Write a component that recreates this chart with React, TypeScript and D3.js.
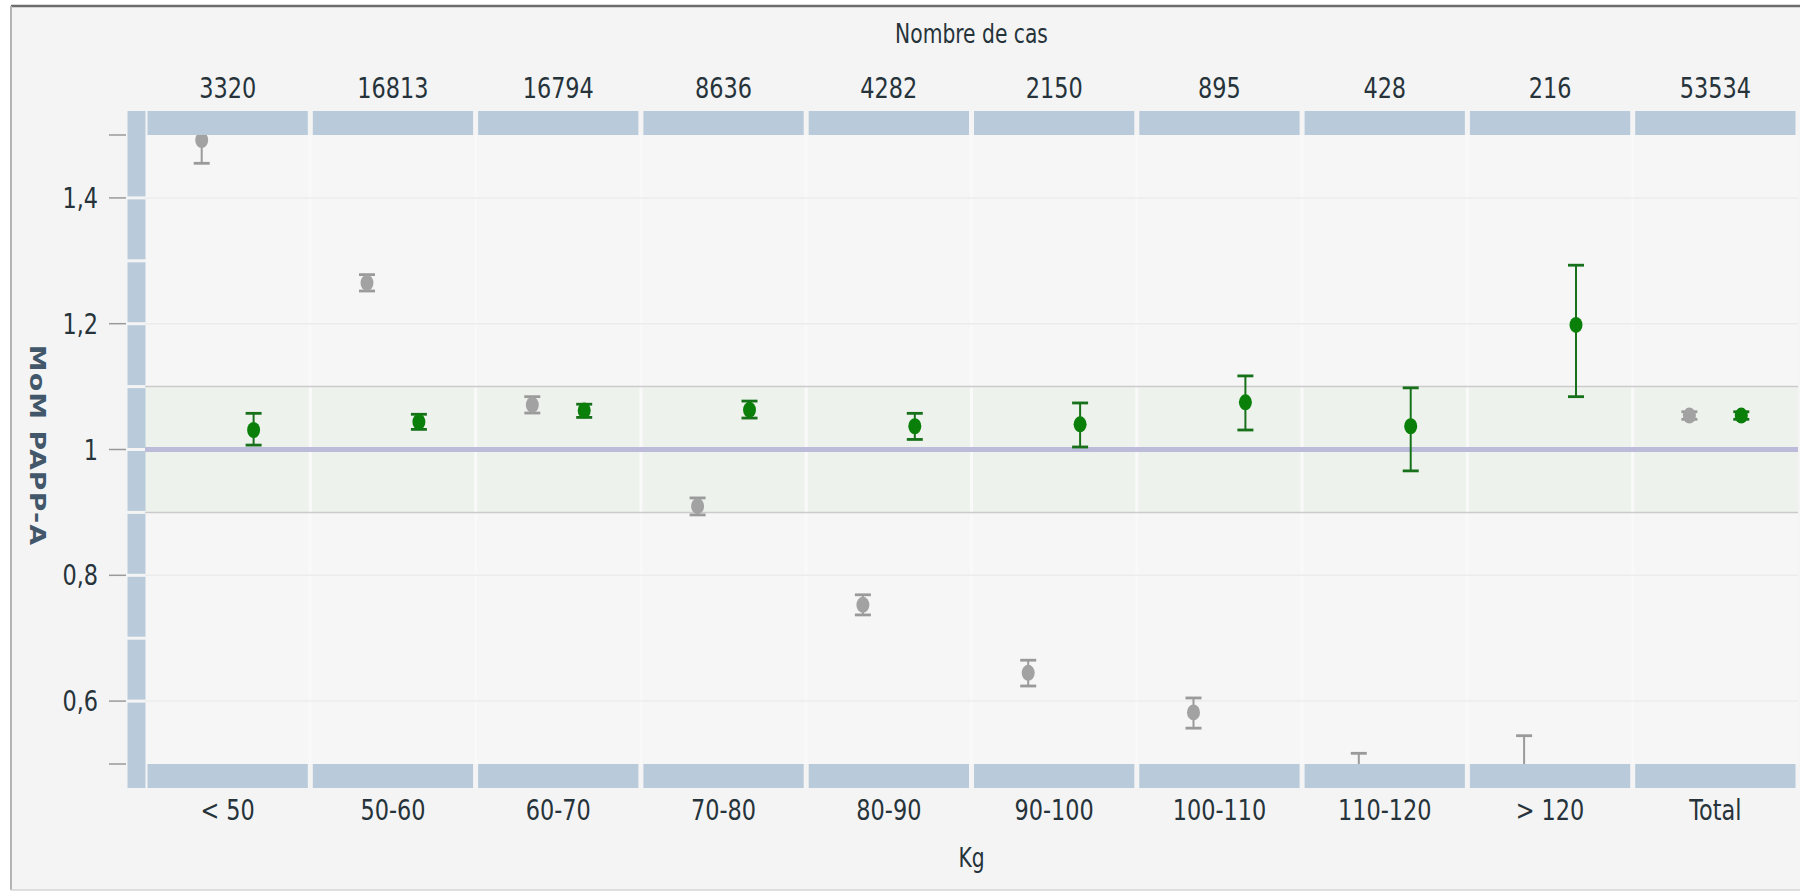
import React from "react";
import * as d3 from "d3";

const categories = ["< 50", "50-60", "60-70", "70-80", "80-90", "90-100", "100-110", "110-120", "> 120", "Total"];
const caseCounts = [3320, 16813, 16794, 8636, 4282, 2150, 895, 428, 216, 53534];

const grayMean = [1.492, 1.265, 1.071, 0.91, 0.753, 0.645, 0.582, 0.485, 0.47, 1.054];
const grayLow = [1.455, 1.252, 1.058, 0.896, 0.737, 0.624, 0.557, 0.453, 0.395, 1.048];
const grayHigh = [1.529, 1.278, 1.084, 0.923, 0.769, 0.665, 0.605, 0.517, 0.545, 1.06];

const greenMean = [1.031, 1.044, 1.062, 1.063, 1.037, 1.04, 1.075, 1.037, 1.198, 1.054];
const greenLow = [1.007, 1.032, 1.051, 1.05, 1.016, 1.004, 1.031, 0.966, 1.084, 1.048];
const greenHigh = [1.0575, 1.056, 1.072, 1.077, 1.0575, 1.074, 1.117, 1.098, 1.293, 1.06];

const yDomain = [0.5, 1.5];
const refBand = [0.9, 1.1];
const refLine = 1.0;

const W = 1800;
const H = 892;
const PL = 145, PR = 1798, PT = 135, PB = 764;
const FONT = "DejaVu Sans";
const TXT = "#26333a";
const BAND = "#b9cbdb";

const locale = d3.formatLocale({ decimal: ",", thousands: " ", grouping: [3], currency: ["", "€"] });
const fmt = locale.format("~g");

export default function App() {
  const x = d3.scaleBand<string>().domain(categories).range([PL, PR]).padding(0);
  const y = d3.scaleLinear().domain(yDomain).range([PB, PT]);
  const bw = x.bandwidth();
  const off = bw * 0.157;

  const labelTicks = y.ticks(5);
  const tickMarks = [yDomain[0], ...labelTicks, yDomain[1]];
  const fine = y.ticks(10).filter((t) => t > yDomain[0] + 1e-9 && t < yDomain[1] - 1e-9);
  const edges = [111, ...fine.map((t) => y(t)).sort((a, b) => a - b), 788];

  const series = [
    { mean: grayMean, low: grayLow, high: grayHigh, dx: -off, dot: "#a2a2a2", bar: "#9a9a9a" },
    { mean: greenMean, low: greenLow, high: greenHigh, dx: off, dot: "#0a800a", bar: "#17701a" },
  ];

  const txt = (xx: number, yy: number, s: string, size: number, sx: number, anchor = "middle", key?: any) => (
    <text
      key={key}
      transform={`translate(${xx},${yy}) scale(${sx},1)`}
      textAnchor={anchor}
      fontFamily={FONT}
      fontSize={size}
      fill={TXT}
    >
      {s}
    </text>
  );

  return (
    <svg width={W} height={H} style={{ position: "absolute", left: 0, top: 0, display: "block" }}>
      <defs>
        <clipPath id="plotclip">
          <rect x={PL} y={PT} width={PR - PL} height={PB - PT} />
        </clipPath>
      </defs>
      <rect x={0} y={0} width={W} height={H} fill="#ffffff" />
      <rect x={11} y={6} width={W - 11} height={884} fill="#f4f4f4" />
      <line x1={11} x2={W} y1={6} y2={6} stroke="#6c6c6c" strokeWidth={2.5} />
      <line x1={11} x2={11} y1={6} y2={890} stroke="#b4b4b4" strokeWidth={2} />
      <line x1={11} x2={W} y1={890} y2={890} stroke="#d4d4d4" strokeWidth={1.5} />

      {/* plot background */}
      <rect x={PL} y={PT} width={PR - PL} height={PB - PT} fill="#f6f6f6" />
      {/* reference band */}
      <rect x={PL} y={y(refBand[1])} width={PR - PL} height={y(refBand[0]) - y(refBand[1])} fill="#eef2ed" />
      {/* column separators */}
      {categories.slice(1).map((c) => (
        <line key={"v" + c} x1={x(c)!} x2={x(c)!} y1={PT} y2={PB} stroke="#f9f9f9" strokeWidth={3} />
      ))}
      {/* horizontal gridlines */}
      {labelTicks.filter((t) => t !== refLine).map((t) => (
        <line key={"g" + t} x1={PL} x2={PR} y1={y(t)} y2={y(t)} stroke="#ececec" strokeWidth={1.5} />
      ))}
      {refBand.map((t) => (
        <line key={"rb" + t} x1={PL} x2={PR} y1={y(t)} y2={y(t)} stroke="#cbcbcb" strokeWidth={1.5} />
      ))}
      <line x1={PL} x2={PR} y1={y(refLine)} y2={y(refLine)} stroke="#bcbcda" strokeWidth={5} />

      {/* data */}
      <g clipPath="url(#plotclip)">
        {series.map((s, si) =>
          categories.map((c, i) => {
            const cx = x(c)! + bw / 2 + s.dx;
            return (
              <g key={si + "-" + i}>
                <line x1={cx} x2={cx} y1={y(s.low[i])} y2={y(s.high[i])} stroke={s.bar} strokeWidth={2} />
                <line x1={cx - 8} x2={cx + 8} y1={y(s.low[i])} y2={y(s.low[i])} stroke={s.bar} strokeWidth={2.8} />
                <line x1={cx - 8} x2={cx + 8} y1={y(s.high[i])} y2={y(s.high[i])} stroke={s.bar} strokeWidth={2.8} />
                <ellipse cx={cx} cy={y(s.mean[i])} rx={6.5} ry={8} fill={s.dot} />
              </g>
            );
          })
        )}
      </g>

      {/* left vertical bar segments */}
      {edges.slice(0, -1).map((e, i) => (
        <rect key={"lb" + i} x={127.5} y={e + (i === 0 ? 0 : 1.5)} width={18} height={edges[i + 1] - e - (i === 0 ? 1.5 : 3) + (i === edges.length - 2 ? 1.5 : 0)} fill={BAND} />
      ))}
      {/* top & bottom bands */}
      {categories.map((c) => (
        <g key={"b" + c}>
          <rect x={x(c)! + 2.5} y={111} width={bw - 5} height={PT - 111} fill={BAND} />
          <rect x={x(c)! + 2.5} y={PB} width={bw - 5} height={788 - PB} fill={BAND} />
        </g>
      ))}

      {/* y ticks */}
      {tickMarks.map((t) => (
        <line key={"t" + t} x1={109} x2={126} y1={y(t)} y2={y(t)} stroke="#9a9a9a" strokeWidth={1.5} />
      ))}
      {labelTicks.map((t) => txt(98, y(t) + 10, fmt(t), 28, 0.8, "end", "yl" + t))}

      {/* top labels */}
      {categories.map((c, i) => txt(x(c)! + bw / 2, 98, String(caseCounts[i]), 28, 0.8, "middle", "tc" + c))}
      {txt((PL + PR) / 2, 43, "Nombre de cas", 26, 0.78, "middle", "tt")}

      {/* bottom labels */}
      {categories.map((c) => txt(x(c)! + bw / 2, 820, c, 28, 0.8, "middle", "bc" + c))}
      {txt((PL + PR) / 2, 867, "Kg", 26, 0.78, "middle", "bt")}

      {/* y axis title */}
      <text
        transform={`translate(38,${(PT + PB) / 2 - 4}) rotate(90) scale(1.12,0.92)`}
        textAnchor="middle"
        dominantBaseline="central"
        fontFamily={FONT}
        fontWeight="bold"
        fontSize={24}
        letterSpacing={1}
        fill="#425769"
      >
        MoM PAPP-A
      </text>
    </svg>
  );
}
